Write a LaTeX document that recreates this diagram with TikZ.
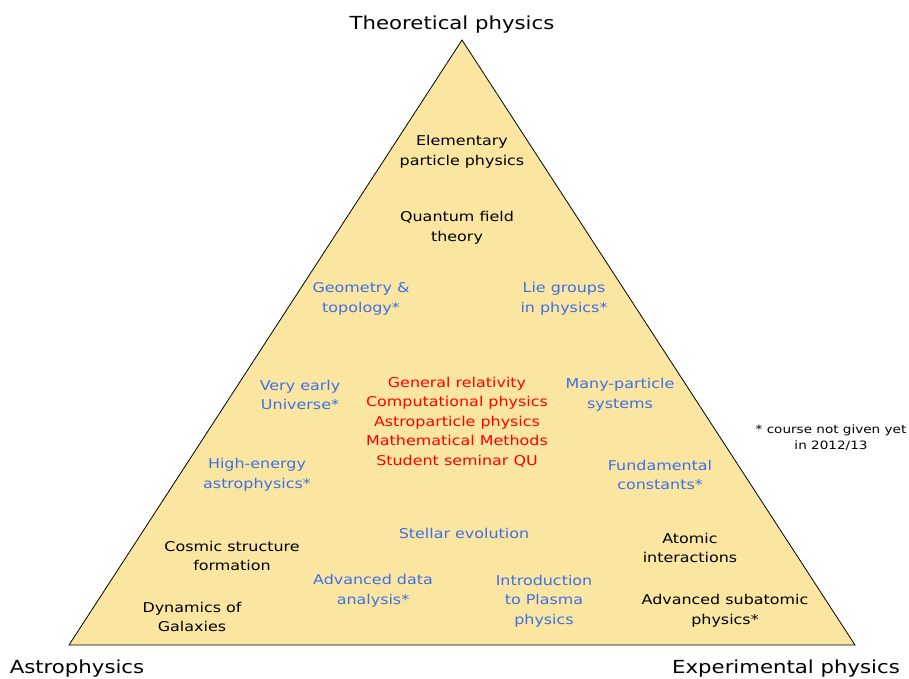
\documentclass[tikz,border=0pt]{standalone}
\usepackage{fontspec}
\setmainfont[FakeStretch=1.18]{DejaVu Sans}
\begin{document}
\begin{tikzpicture}[x=1pt,y=-1pt,
  lbl/.style={align=center, inner sep=0pt, font=\fontsize{13.5}{19.5}\selectfont},
  blk/.style={lbl, text=black},
  blu/.style={lbl, text=myblue},
  rd/.style={lbl, text=red},
  corner/.style={inner sep=0pt, font=\fontsize{18}{20}\selectfont},
  note/.style={align=center, inner sep=0pt, font=\fontsize{11.5}{16}\selectfont}]
\definecolor{myblue}{HTML}{3F6FE6}
\definecolor{tri}{HTML}{FAE6A0}
\useasboundingbox (0,0) rectangle (909,678);
\coordinate (A) at (462,40);
\coordinate (B) at (69,645);
\coordinate (C) at (855,645);
\draw[fill=tri, draw=black, line width=0.8pt] (A) -- (B) -- (C) -- cycle;

\node[corner] (theo) at (452,25) {Theoretical physics};
\node[corner] (astro) at (77,669) {Astrophysics};
\node[corner] (exp) at (786,669) {Experimental physics};

\node[blk] (epp) at (462,152) {Elementary\\particle physics};
\node[blk] (qft) at (457,228) {Quantum field\\theory};
\node[blu] (geo) at (361,299) {Geometry \&\\topology*};
\node[blu] (lie) at (564,299) {Lie groups\\in physics*};
\node[blu] (veu) at (300,395) {Very early\\Universe*};
\node[rd] (core) at (457,422) {General relativity\\Computational physics\\Astroparticle physics\\Mathematical Methods\\Student seminar QU};
\node[blu] (mps) at (620,395) {Many-particle\\systems};
\node[blu] (hea) at (257,475) {High-energy\\astrophysics*};
\node[blu] (fc) at (660,475) {Fundamental\\constants*};
\node[blu] (se) at (464,533) {Stellar evolution};
\node[blk] (ai) at (690,548) {Atomic\\interactions};
\node[blk] (csf) at (232,556) {Cosmic structure\\formation};
\node[blu] (ada) at (373,591) {Advanced data\\analysis*};
\node[blu] (ipp) at (544,601) {Introduction\\to Plasma\\physics};
\node[blk] (dog) at (192,617) {Dynamics of\\Galaxies};
\node[blk] (asp) at (725,611) {Advanced subatomic\\physics*};
\node[note] (nt) at (831,438) {* course not given yet\\in 2012/13};
\end{tikzpicture}
\end{document}
